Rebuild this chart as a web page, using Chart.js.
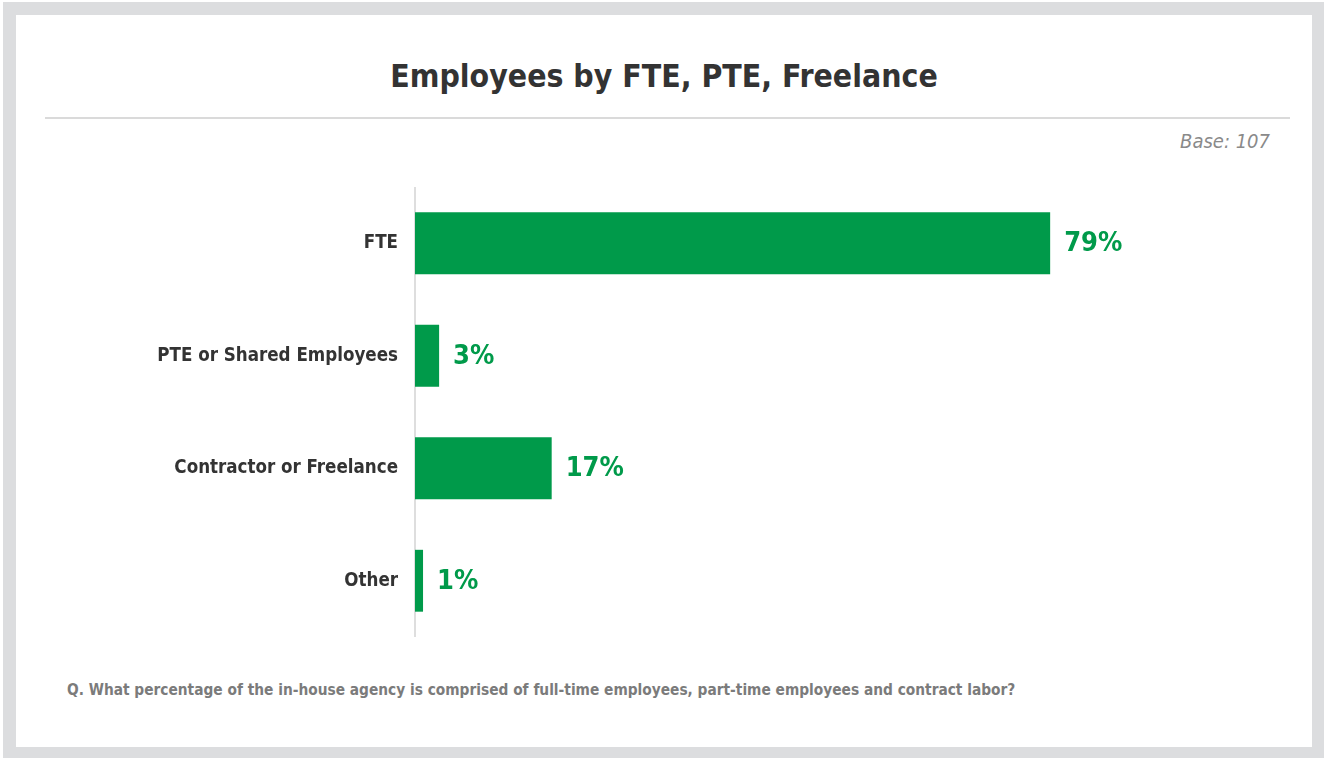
<!DOCTYPE html>
<html>
<head>
<meta charset="utf-8">
<script src="https://cdn.jsdelivr.net/npm/chart.js@4.4.1/dist/chart.umd.min.js"></script>
<style>
  html, body { margin: 0; padding: 0; background: #fff; }
  body { width: 1324px; height: 758px; position: relative; overflow: hidden;
         font-family: "DejaVu Sans Condensed", "Liberation Sans", sans-serif; }
  .frame { position: absolute; left: 3px; top: 2px; right: 0; bottom: 0; background: #dcdddf; }
  .panel { position: absolute; left: 16px; top: 15px; width: 1296px; height: 732px; background: #fff; }
  h1 { position: absolute; left: 16px; width: 1296px; top: 52px; margin: 0; text-align: center;
       font-size: 31.7px; font-weight: bold; color: #333; line-height: 48px; }
  .rule { position: absolute; left: 45px; width: 1245px; top: 117px; height: 2px; background: #dadada; }
  .base { position: absolute; right: 54px; top: 129px; font-size: 20px; font-style: italic; color: #8a8a8a; }
  .note { position: absolute; left: 67px; top: 681px; font-size: 15.3px; font-weight: bold; color: #7b7b7b; }
  .chart { position: absolute; left: 16px; top: 187px; width: 1296px; height: 450px; }
</style>
</head>
<body>
<div class="frame"></div>
<div class="panel"></div>
<h1>Employees by FTE, PTE, Freelance</h1>
<div class="rule"></div>
<div class="base">Base: 107</div>
<div class="chart"><canvas id="bars"></canvas></div>
<div class="note">Q. What percentage of the in-house agency is comprised of full-time employees, part-time employees and contract labor?</div>
<script>
const categories = ['FTE', 'PTE or Shared Employees', 'Contractor or Freelance', 'Other'];
const shares = [79, 3, 17, 1];

const FONT = '"DejaVu Sans Condensed", "Liberation Sans", sans-serif';
const GREEN = '#009a4a';

// percentage text at the end of each bar
const valueLabels = {
  id: 'valueLabels',
  afterDatasetsDraw(chart) {
    const ctx = chart.ctx;
    const meta = chart.getDatasetMeta(0);
    ctx.save();
    ctx.font = 'bold 27px ' + FONT;
    ctx.fillStyle = GREEN;
    ctx.textAlign = 'left';
    ctx.textBaseline = 'middle';
    meta.data.forEach((bar, i) => {
      ctx.fillText(shares[i] + '%', bar.x + 14, bar.y + 1);
    });
    ctx.restore();
  }
};

new Chart(document.getElementById('bars'), {
  type: 'bar',
  data: {
    labels: categories,
    datasets: [{
      data: shares,
      backgroundColor: GREEN,
      borderWidth: 0,
      barPercentage: 0.55,
      categoryPercentage: 1
    }]
  },
  options: {
    indexAxis: 'y',
    responsive: true,
    maintainAspectRatio: false,
    animation: false,
    layout: { padding: { right: 93, top: 0, bottom: 0, left: 0 } },
    plugins: {
      legend: { display: false },
      tooltip: { enabled: false }
    },
    scales: {
      x: { display: false, min: 0, max: 100 },
      y: {
        grid: { display: false, drawTicks: false },
        border: { display: true, color: '#dedede', width: 2 },
        ticks: {
          padding: 17,
          color: '#333',
          font: { family: FONT, size: 18.6, weight: 'bold' }
        },
        afterFit(scale) {
          scale.width = 399;
          // labels sit mid-category, so no extra room above/below the axis
          scale.paddingTop = 0;
          scale.paddingBottom = 0;
        }
      }
    }
  },
  plugins: [valueLabels]
});
</script>
</body>
</html>
